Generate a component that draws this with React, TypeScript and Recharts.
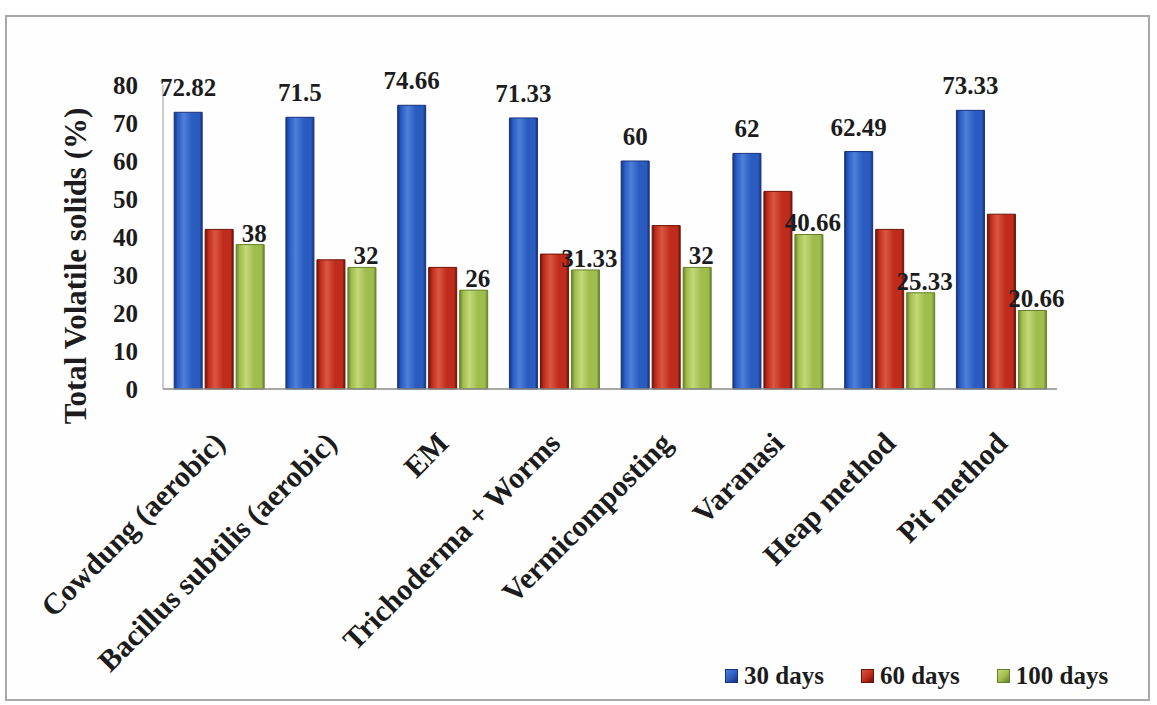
import React from 'react';
import { BarChart, Bar, XAxis, YAxis, Legend, LabelList } from 'recharts';

// Composting methods on the category axis
const categories = [
  'Cowdung (aerobic)',
  'Bacillus subtilis (aerobic)',
  'EM',
  'Trichoderma + Worms',
  'Vermicomposting',
  'Varanasi',
  'Heap method',
  'Pit method',
];

// Total volatile solids (%) at each sampling day
const days30 = [72.82, 71.5, 74.66, 71.33, 60, 62, 62.49, 73.33];
const days60 = [42, 34, 32, 35.5, 43, 52, 42, 46];
const days100 = [38, 32, 26, 31.33, 32, 40.66, 25.33, 20.66];

const yTicks = [0, 10, 20, 30, 40, 50, 60, 70, 80];

const seriesNames = ['30 days', '60 days', '100 days'];

const data = categories.map((name, i) => ({
  name,
  d30: days30[i],
  d60: days60[i],
  d100: days100[i],
}));

const FONT = '"Liberation Serif", "Times New Roman", serif';
const TEXT = '#1c1c1c';

const palette = {
  blue: { dark: '#17327d', light: '#4d7fdc', base: '#2a5bbf' },
  red: { dark: '#6e1208', light: '#dc5640', base: '#bf2c1c' },
  green: { dark: '#66802a', light: '#c3d978', base: '#a0bc4c' },
};

const Gradient = ({ id, c }: { id: string; c: { dark: string; light: string; base: string } }) => (
  <linearGradient id={id} x1="0" y1="0" x2="1" y2="0">
    <stop offset="0%" stopColor={c.dark} />
    <stop offset="12%" stopColor={c.base} />
    <stop offset="35%" stopColor={c.light} />
    <stop offset="65%" stopColor={c.base} />
    <stop offset="90%" stopColor={c.base} />
    <stop offset="100%" stopColor={c.dark} />
  </linearGradient>
);

// Value label above the 30-day bars
const topLabel = (props: any) => {
  const { x, y, width, value } = props;
  return (
    <text
      x={x + width / 2}
      y={y - 16}
      textAnchor="middle"
      fontFamily={FONT}
      fontWeight="bold"
      fontSize={25}
      fill={TEXT}
    >
      {value}
    </text>
  );
};

// Value label sitting on the 100-day bars
const greenLabel = (props: any) => {
  const { x, y, width, value } = props;
  return (
    <text
      x={x + width / 2 + 4}
      y={y - 3}
      textAnchor="middle"
      fontFamily={FONT}
      fontWeight="bold"
      fontSize={25}
      fill={TEXT}
    >
      {value}
    </text>
  );
};

const CategoryTick = (props: any) => {
  const { x, y, payload } = props;
  const tx = x + 8;
  const ty = y + 56;
  return (
    <text
      x={tx}
      y={ty}
      textAnchor="end"
      transform={`rotate(-45, ${tx}, ${ty})`}
      fontFamily={FONT}
      fontWeight="bold"
      fontSize={30}
      fill={TEXT}
    >
      {payload.value}
    </text>
  );
};

const AxisTitle = (props: any) => {
  const { viewBox } = props;
  const tx = viewBox.x + 86;
  const ty = viewBox.y + viewBox.height / 2 + 29;
  return (
    <text
      x={tx}
      y={ty}
      textAnchor="middle"
      transform={`rotate(-90, ${tx}, ${ty})`}
      fontFamily={FONT}
      fontWeight="bold"
      fontSize={31}
      fill={TEXT}
    >
      Total Volatile solids (%)
    </text>
  );
};

const legendSwatch: Record<string, { dark: string; light: string; base: string }> = {
  '30 days': palette.blue,
  '60 days': palette.red,
  '100 days': palette.green,
};

const LegendContent = (props: any) => {
  const items = [...(props.payload || [])].sort(
    (a: any, b: any) => seriesNames.indexOf(a.value) - seriesNames.indexOf(b.value)
  );
  return (
    <div style={{ display: 'flex', alignItems: 'center', fontFamily: FONT, fontWeight: 'bold', fontSize: 25, lineHeight: '25px', color: TEXT }}>
      {items.map((entry: any) => {
        const c = legendSwatch[entry.value];
        return (
          <div key={entry.value} style={{ display: 'flex', alignItems: 'center', marginRight: 37 }}>
            <span
              style={{
                display: 'inline-block',
                width: 13,
                height: 14,
                marginRight: 6,
                background: `linear-gradient(135deg, ${c.light}, ${c.base} 55%, ${c.dark})`,
                border: `1px solid ${c.dark}`,
                boxSizing: 'border-box',
              }}
            />
            <span style={{ whiteSpace: 'nowrap' }}>{entry.value}</span>
          </div>
        );
      })}
    </div>
  );
};

export default function App() {
  return (
    <div style={{ position: 'absolute', left: 0, top: 0, width: 1157, height: 705, background: '#ffffff' }}>
      <div
        style={{
          position: 'absolute',
          left: 5,
          top: 15,
          width: 1145,
          height: 686,
          border: '2px solid #a8a8a8',
          boxSizing: 'border-box',
          background: '#fefefe',
        }}
      />
      <div style={{ position: 'absolute', left: 0, top: 0 }}>
        <BarChart
          width={1157}
          height={705}
          data={data}
          margin={{ top: 85, right: 100, bottom: 286, left: 0 }}
          barCategoryGap="10%"
          barGap={3}
        >
          <defs>
            <Gradient id="gBlue" c={palette.blue} />
            <Gradient id="gRed" c={palette.red} />
            <Gradient id="gGreen" c={palette.green} />
          </defs>
          <XAxis
            dataKey="name"
            height={30}
            interval={0}
            tickLine={false}
            tickSize={0}
            tickMargin={0}
            axisLine={{ stroke: '#8a8a8a', strokeWidth: 1.5 }}
            tick={<CategoryTick />}
          />
          <YAxis
            width={163}
            domain={[0, 80]}
            ticks={yTicks}
            interval={0}
            tickLine={false}
            tickSize={0}
            tickMargin={25}
            axisLine={{ stroke: '#9a9a9a', strokeWidth: 1 }}
            tick={{ fontFamily: FONT, fontWeight: 'bold', fontSize: 25, fill: TEXT }}
            label={{ content: <AxisTitle /> }}
          />
          <Legend
            layout="vertical"
            align="center"
            verticalAlign="middle"
            wrapperStyle={{ left: 725, top: 663, width: 430, height: 26 }}
            content={<LegendContent />}
          />
          <Bar dataKey="d30" name={seriesNames[0]} fill="url(#gBlue)" stroke={palette.blue.dark} strokeWidth={1} isAnimationActive={false}>
            <LabelList dataKey="d30" content={topLabel} />
          </Bar>
          <Bar dataKey="d60" name={seriesNames[1]} fill="url(#gRed)" stroke={palette.red.dark} strokeWidth={1} isAnimationActive={false} />
          <Bar dataKey="d100" name={seriesNames[2]} fill="url(#gGreen)" stroke={palette.green.dark} strokeWidth={1} isAnimationActive={false}>
            <LabelList dataKey="d100" content={greenLabel} />
          </Bar>
        </BarChart>
      </div>
    </div>
  );
}
